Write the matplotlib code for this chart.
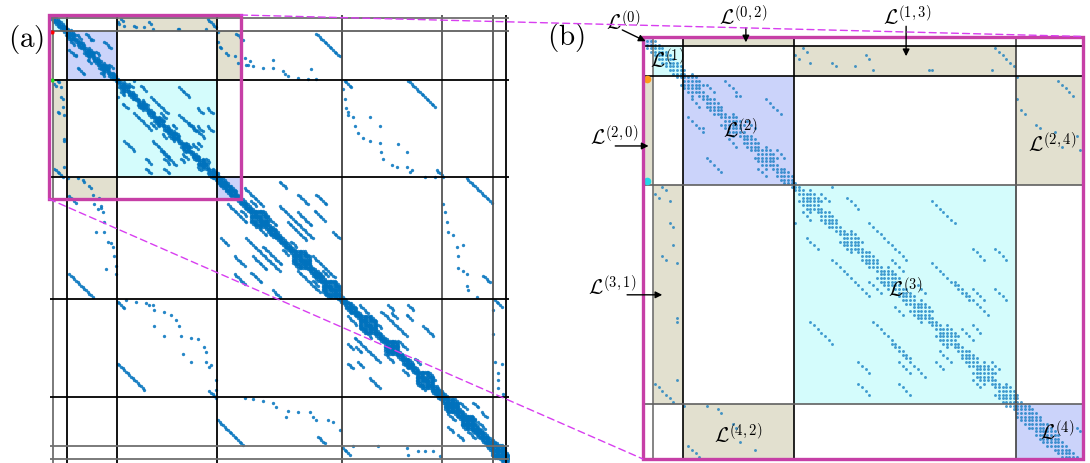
import numpy as np
import matplotlib.pyplot as plt
from matplotlib.patches import Rectangle, ConnectionPatch

plt.rcParams['mathtext.fontset'] = 'cm'

n = 275
# block boundaries of the ordering (between entry indices)
seps = [1.5, 9.5, 39.5, 99.5, 174.5, 234.5, 264.5, 272.5]

# diagonal band: (first row, last row, half width)
band = [(0, 1, 1), (2, 9, 2), (10, 39, 1), (40, 99, 1), (100, 174, 2),
        (175, 234, 2), (235, 264, 3), (265, 274, 4)]

# dense clusters sitting on the diagonal: (centre, half size)
clusters = [(4, 2), (8, 2), (12, 3), (18, 2), (23, 3), (28, 2), (32, 3), (37, 2),
            (44, 3), (49, 2), (55, 3), (60, 2), (65, 3), (70, 2), (74, 3),
            (81, 3), (87, 2), (91, 3), (97, 3),
            (103, 3), (108, 3), (113, 2), (125, 5), (133, 3), (150, 5), (160, 3), (168, 5),
            (180, 3), (190, 5), (204, 4), (214, 3), (224, 5), (231, 3),
            (240, 4), (250, 4), (258, 3), (268, 4), (272, 3)]

# off-diagonal runs in the lower triangle: (first row, first col, length)
runs = [(21, 11, 5), (32, 16, 5), (16, 12, 3), (27, 22, 3), (35, 30, 3),
        (54, 43, 4), (47, 42, 3), (66, 60, 4), (73, 67, 3), (85, 79, 4), (93, 88, 3),
        (60, 50, 11), (77, 44, 7), (77, 61, 11), (83, 66, 10), (88, 57, 4),
        (94, 57, 4), (88, 68, 4), (94, 68, 4), (88, 78, 3),
        (94, 2, 6), (111, 11, 5), (159, 11, 15),
        (137, 102, 5), (148, 110, 7), (159, 110, 7), (137, 117, 21), (148, 121, 9),
        (158, 120, 7), (169, 133, 5), (142, 127, 12), (116, 106, 12), (157, 148, 14),
        (120, 114, 4), (144, 139, 4), (163, 157, 4), (130, 124, 6),
        (202, 178, 4), (214, 178, 4), (198, 182, 16), (204, 183, 4), (223, 191, 7),
        (213, 184, 4), (195, 189, 4), (218, 211, 4), (185, 178, 6), (208, 200, 6),
        (226, 220, 5),
        (253, 238, 4), (258, 244, 4), (245, 238, 5), (256, 250, 5),
        (214, 40, 17), (231, 95, 5), (176, 40, 5),
        (249, 100, 16), (259, 160, 5), (266, 175, 5)]

# isolated entries in the lower triangle: rows and cols
pt_rows = [24, 25, 50,
           40, 41, 42, 43, 44, 50, 51, 56, 59, 60, 61, 76, 77, 93,
           100, 100, 101, 102, 105, 106, 110, 112, 116, 117, 118, 119, 121, 127, 133, 133,
           139, 140, 142, 148, 154, 156, 159,
           175, 176, 177, 178, 178, 181, 182, 184, 187, 191, 191, 197, 197, 198, 199,
           204, 207, 208, 213, 213, 215, 216, 224, 230,
           235, 236, 237, 238, 241, 243, 247, 244, 244, 247, 249, 249, 250, 255,
           265, 265, 266, 270, 268, 268, 268, 271]
pt_cols = [15, 15, 40,
           4, 5, 2, 3, 6, 6, 7, 7, 4, 5, 8, 8, 8, 8,
           10, 16, 19, 20, 23, 24, 25, 29, 26, 30, 30, 28, 31, 32, 27, 32,
           34, 36, 37, 38, 39, 33, 39,
           45, 51, 57, 59, 61, 62, 68, 72, 75, 77, 62, 68, 78, 84, 88,
           92, 93, 79, 84, 93, 96, 95, 99, 99,
           116, 121, 127, 133, 135, 142, 141, 148, 155, 157, 159, 166, 169, 173,
           181, 196, 213, 214, 220, 224, 229, 233]

# shaded blocks: diagonal blocks and coupling blocks (row block, col block)
diag_blocks = [0, 1, 2, 3, 4]
diag_colors = ['#cbd3fa', '#d4fcfc', '#cbd3fa', '#d4fcfc', '#cbd3fa']
tan_blocks = [(0, 2), (2, 0), (1, 3), (3, 1), (2, 4), (4, 2)]

# part of the matrix shown enlarged on the right
zoom_box = (-1.2, 113.6, -0.5, 112.7)   # col0, col1, row0, row1
bx0, bx1, by0, by1 = -1.2, 117.7, -1.2, 114.6

lines_a_v = ['#707070', 'k', 'k', 'k', '#404040', '#555555', '#555555', 'k']
lines_a_h = ['#707070', '#606060', 'k', 'k', 'k', 'k', '#707070', '#707070']
lines_b_v = ['#707070', 'k', 'k', '#404040']
lines_b_h = ['k', 'k', '#606060', '#606060']


def build_pattern():
    pts = set()
    for r0, r1, w in band:
        for i in range(r0, r1 + 1):
            for j in range(max(0, i - w), i + 1):
                pts.add((i, j))
    for c, h in clusters:
        for di in range(-h, h + 1):
            for dj in range(-h, h + 1):
                d = abs(di) + abs(dj)
                if h >= 4:
                    keep = h - 1 <= d <= 1.5 * h
                else:
                    keep = d <= 1.2 * h
                i, j = c + di, c + dj
                if keep and 0 <= j <= i < n:
                    pts.add((i, j))
    for r0, c0, ln in runs:
        for k in range(ln):
            pts.add((r0 + k, c0 + k))
    for r, c in zip(pt_rows, pt_cols):
        pts.add((r, c))
    pts = pts | {(j, i) for i, j in pts}
    arr = np.array(sorted(pts))
    return arr[:, 0], arr[:, 1]


rows, cols = build_pattern()
edges = [-1.2] + seps + [n - 0.5]

fig = plt.figure(figsize=(10.9, 4.64), dpi=100)
ax_a = fig.add_axes([50 / 1090, 0.0, 459 / 1090, 448 / 464])
ax_b = fig.add_axes([643 / 1090, 4 / 464, 440 / 1090, 422.5 / 464])

for ax in (ax_a, ax_b):
    ax.set_axis_off()

ax_a.set_xlim(-0.5, 274.35)
ax_a.set_ylim(275.2, -0.5)
ax_b.set_xlim(bx0, bx1)
ax_b.set_ylim(by1, by0)


def shade(ax, clip=None):
    blocks = [(k, k, col) for k, col in zip(diag_blocks, diag_colors)]
    blocks += [(r, c, '#e2e0cf') for r, c in tan_blocks]
    for rb, cb, col in blocks:
        x0, x1 = edges[cb], edges[cb + 1]
        y0, y1 = edges[rb], edges[rb + 1]
        if clip is not None:
            x1 = min(x1, clip[1])
            y1 = min(y1, clip[3])
        ax.add_patch(Rectangle((x0, y0), x1 - x0, y1 - y0, facecolor=col,
                               edgecolor='none', zorder=0))


shade(ax_a, zoom_box)
shade(ax_b)

# sparsity pattern
ax_a.plot(cols, rows, 'o', ms=2.4, color='#0072bd', alpha=0.85, mec='none', zorder=2)
ax_b.plot(cols, rows, 'o', ms=2.1, color='#0072bd', alpha=0.7, mec='none', zorder=2)

# block separators
for s, c in zip(seps, lines_a_v):
    ax_a.axvline(s, color=c, lw=1.3, zorder=3)
for s, c in zip(seps, lines_a_h):
    ax_a.axhline(s, color=c, lw=1.3, zorder=3)
for s, c in zip(seps[:4], lines_b_v):
    ax_b.axvline(s, color=c, lw=1.2, zorder=3)
for s, c in zip(seps[:4], lines_b_h):
    ax_b.axhline(s, color=c, lw=1.2, zorder=3)

# first and last row of block 2
ax_a.plot([0.8], [10], 'o', ms=3, color='red', mec='none', zorder=5)
ax_a.plot([0.8], [39.5], 'o', ms=3, color='#22dd22', mec='none', zorder=5)
ax_b.plot([0], [10.5], 'o', ms=5.5, color='#ff9a1a', mec='none', zorder=6, clip_on=False)
ax_b.plot([0], [38.5], 'o', ms=5.5, color='#22d8e8', mec='none', zorder=6, clip_on=False)

# zoom frame in (a) and frame of (b)
mag = '#c63fa6'
ax_a.add_patch(Rectangle((zoom_box[0], zoom_box[2]), zoom_box[1] - zoom_box[0],
                         zoom_box[3] - zoom_box[2], fill=False, edgecolor=mag,
                         lw=2.4, zorder=6, clip_on=False))
ax_b.add_patch(Rectangle((bx0, by0), bx1 - bx0, by1 - by0, fill=False, edgecolor=mag,
                         lw=2.4, zorder=6, clip_on=False))

for xa, xb in [((zoom_box[1], zoom_box[2]), (bx1, by0)),
               ((zoom_box[0], zoom_box[3]), (bx0, by1))]:
    con = ConnectionPatch(xyA=xa, coordsA=ax_a.transData, xyB=xb, coordsB=ax_b.transData,
                          color='#d83ef0', lw=1.0, ls=(0, (5, 3)), zorder=10)
    fig.add_artist(con)

# panel labels
fig.text(26 / 1090, 1 - 39 / 464, r'$\mathrm{(a)}$', fontsize=21, ha='center', va='center')
fig.text(566 / 1090, 1 - 37.5 / 464, r'$\mathrm{(b)}$', fontsize=21, ha='center', va='center')

# block labels
fs = 15
labels = [(r'$\mathcal{L}^{(0)}$', -6.6, -5.6), (r'$\mathcal{L}^{(0,2)}$', 25.8, -6.8),
          (r'$\mathcal{L}^{(1,3)}$', 70.2, -6.8), (r'$\mathcal{L}^{(1)}$', 5.3, 4.8),
          (r'$\mathcal{L}^{(2)}$', 25.0, 24.0), (r'$\mathcal{L}^{(2,0)}$', -9.0, 26.0),
          (r'$\mathcal{L}^{(2,4)}$', 109.4, 28.0), (r'$\mathcal{L}^{(3)}$', 69.6, 67.8),
          (r'$\mathcal{L}^{(3,1)}$', -9.6, 67.0), (r'$\mathcal{L}^{(4,2)}$', 24.5, 107.8),
          (r'$\mathcal{L}^{(4)}$', 110.7, 107.0)]
for txt, x, y in labels:
    ax_b.text(x, y, txt, fontsize=fs, ha='center', va='center', zorder=8, clip_on=False)

arrows = [((-6.8, -3.0), (-0.5, 0.1)), ((26.6, -3.6), (26.6, 0.4)),
          ((69.9, -4.0), (69.9, 4.2)), ((-8.7, 28.8), (0.3, 28.8)),
          ((-5.5, 69.6), (4.0, 69.6))]
for tail, tip in arrows:
    ax_b.annotate('', xy=tip, xytext=tail, annotation_clip=False,
                  arrowprops=dict(arrowstyle='-|>', color='k', lw=1.0,
                                  shrinkA=0, shrinkB=0, mutation_scale=10), zorder=8)

fig.savefig('out.png', dpi=100)
